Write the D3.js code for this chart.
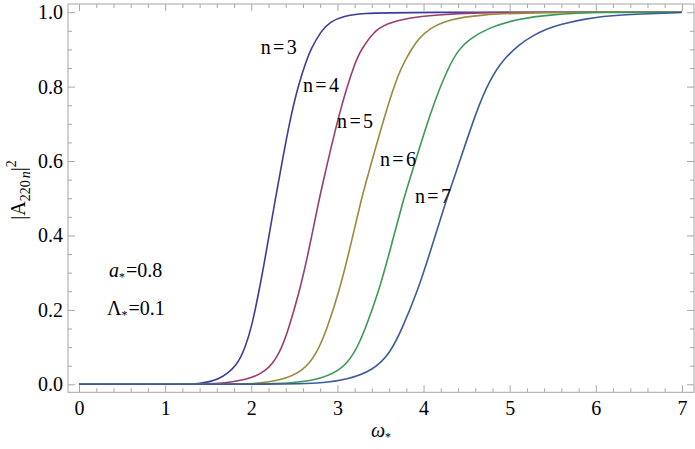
<!DOCTYPE html>
<html>
<head>
<meta charset="utf-8">
<script src="https://cdn.jsdelivr.net/npm/d3@7"></script>
<style>
  svg text, svg tspan, svg g { font-family: "Liberation Serif" !important; }
</style>
</head>
<body style="margin:0">
<svg id="chart" width="695" height="449" font-family="Liberation Serif"></svg>
<script>
// ---- data: [omega*, |A|^2] ----
const seriesNames = ["n=3", "n=4", "n=5", "n=6", "n=7"];
const seriesColors = ["#3d3d99", "#993d71", "#998b3d", "#3d9956", "#3d5a99"];

const curveN3 = [[0,0],[1.2,0],[1.40,0.002],[1.62,0.01],[1.84,0.05],[1.93,0.10],[2.00,0.15],[2.09,0.25],[2.17,0.35],[2.28,0.50],[2.36,0.60],[2.44,0.70],[2.54,0.80],[2.64,0.87],[2.69,0.90],[2.81,0.95],[2.92,0.975],[3.07,0.99],[3.30,0.997],[3.69,1.0],[7,1.0]];
const curveN4 = [[0,0],[1.5,0],[1.67,0.003],[1.95,0.012],[2.18,0.034],[2.33,0.083],[2.43,0.146],[2.56,0.25],[2.66,0.35],[2.79,0.50],[2.84,0.55],[3.03,0.74],[3.21,0.87],[3.28,0.90],[3.42,0.948],[3.57,0.969],[3.80,0.984],[4.15,0.993],[4.65,0.999],[5.2,1.0],[7,1.0]];
const curveN5 = [[0,0],[1.9,0],[2.02,0.002],[2.33,0.009],[2.60,0.034],[2.76,0.083],[2.875,0.146],[3.02,0.25],[3.13,0.35],[3.28,0.50],[3.34,0.55],[3.57,0.74],[3.71,0.836],[3.79,0.872],[3.86,0.90],[3.93,0.926],[4.07,0.957],[4.30,0.981],[4.65,0.993],[5.27,1.0],[7,1.0]];
const curveN6 = [[0,0],[2.2,0],[2.41,0.003],[2.72,0.009],[3.03,0.034],[3.20,0.083],[3.32,0.146],[3.48,0.25],[3.60,0.35],[3.77,0.50],[3.84,0.55],[4.09,0.74],[4.29,0.854],[4.41,0.90],[4.52,0.926],[4.76,0.959],[5.08,0.981],[5.47,0.994],[6.05,1.0],[7,1.0]];
const curveN7 = [[0,0],[2.5,0],[2.80,0.003],[3.11,0.012],[3.42,0.038],[3.61,0.083],[3.745,0.146],[3.93,0.25],[4.07,0.35],[4.27,0.50],[4.35,0.55],[4.62,0.74],[4.77,0.818],[4.92,0.872],[5.12,0.915],[5.27,0.937],[5.43,0.955],[5.58,0.967],[5.89,0.983],[6.24,0.993],[7.0,0.999]];
const allCurves = [curveN3, curveN4, curveN5, curveN6, curveN7];

// label anchor positions in data units [omega, A]
const labelPos = [[2.11, 0.888], [2.60, 0.786], [2.996, 0.689], [3.494, 0.587], [3.90, 0.487]];

const xMajorTicks = [0, 1, 2, 3, 4, 5, 6, 7];
const yMajorTicks = [0, 0.2, 0.4, 0.6, 0.8, 1.0];
const xMinorTicks = d3.range(0, 7.01, 0.2).map(v => +v.toFixed(2)).filter(v => Math.abs(v - Math.round(v)) > 1e-6);
const yMinorTicks = d3.range(0, 1.001, 0.05).map(v => +v.toFixed(2)).filter(v => Math.abs(v * 5 - Math.round(v * 5)) > 1e-6);

// ---- layout ----
const FAM = "Liberation Serif";
const svg = d3.select("#chart");
const frameL = 68, frameR = 694, frameT = 4, frameB = 392.3;
const x = d3.scaleLinear().domain([-0.128, 7.14]).range([frameL, frameR]);
const y = d3.scaleLinear().domain([-0.0215, 1.022]).range([frameB, frameT]);
const frameColor = "#a6a6a6";

function serif(sel, size) {
  sel.attr("font-family", FAM).style("font-family", `"${FAM}"`).style("font-size", size + "px");
  return sel;
}

// curves
const line = d3.line().x(d => x(d[0])).y(d => y(d[1])).curve(d3.curveBasis);
svg.append("g")
  .selectAll("path").data(allCurves).join("path")
  .attr("d", line)
  .attr("fill", "none")
  .attr("stroke", (d, i) => seriesColors[i])
  .attr("stroke-width", 1.6);

// frame
svg.append("rect").attr("x", frameL).attr("y", frameT)
  .attr("width", frameR - frameL).attr("height", frameB - frameT)
  .attr("fill", "none").attr("stroke", frameColor).attr("stroke-width", 1);

function styleAxis(g) {
  g.attr("font-family", FAM).attr("font-size", 20);
  g.select(".domain").remove();
  g.selectAll(".tick line").attr("stroke", frameColor);
  g.selectAll(".tick text").call(serif, 20).attr("fill", "#000");
}

// bottom
svg.append("g").attr("transform", `translate(0,${frameB})`)
  .call(d3.axisBottom(x).tickValues(xMajorTicks).tickSizeInner(-7).tickSizeOuter(0).tickPadding(9).tickFormat(d3.format("d")))
  .call(styleAxis);
svg.append("g").attr("transform", `translate(0,${frameB})`)
  .call(d3.axisBottom(x).tickValues(xMinorTicks).tickSizeInner(-4).tickSizeOuter(0).tickFormat(""))
  .call(styleAxis);
// top
svg.append("g").attr("transform", `translate(0,${frameT})`)
  .call(d3.axisTop(x).tickValues(xMajorTicks).tickSizeInner(-7).tickSizeOuter(0).tickFormat(""))
  .call(styleAxis);
svg.append("g").attr("transform", `translate(0,${frameT})`)
  .call(d3.axisTop(x).tickValues(xMinorTicks).tickSizeInner(-4).tickSizeOuter(0).tickFormat(""))
  .call(styleAxis);
// left
svg.append("g").attr("transform", `translate(${frameL},0)`)
  .call(d3.axisLeft(y).tickValues(yMajorTicks).tickSizeInner(-7).tickSizeOuter(0).tickPadding(5).tickFormat(d3.format(".1f")))
  .call(styleAxis);
svg.append("g").attr("transform", `translate(${frameL},0)`)
  .call(d3.axisLeft(y).tickValues(yMinorTicks).tickSizeInner(-4).tickSizeOuter(0).tickFormat(""))
  .call(styleAxis);
// right
svg.append("g").attr("transform", `translate(${frameR},0)`)
  .call(d3.axisRight(y).tickValues(yMajorTicks).tickSizeInner(-7).tickSizeOuter(0).tickFormat(""))
  .call(styleAxis);
svg.append("g").attr("transform", `translate(${frameR},0)`)
  .call(d3.axisRight(y).tickValues(yMinorTicks).tickSizeInner(-4).tickSizeOuter(0).tickFormat(""))
  .call(styleAxis);

// curve labels
svg.append("g").selectAll("text").data(seriesNames).join("text")
  .attr("x", (d, i) => x(labelPos[i][0]))
  .attr("y", (d, i) => y(labelPos[i][1]))
  .call(serif, 20)
  .attr("textLength", 36).attr("lengthAdjust", "spacing")
  .text(d => d);

// x axis title
const xt = svg.append("text").attr("x", (frameL + frameR) / 2).attr("y", 437)
  .attr("text-anchor", "middle").call(serif, 20);
xt.append("tspan").style("font-style", "italic").text("ω");
xt.append("tspan").style("font-size", "12px").attr("dy", 4).text("*");

// y axis title
const yt = svg.append("text").attr("transform", "translate(25,190) rotate(-90)")
  .attr("text-anchor", "middle").call(serif, 20);
yt.append("tspan").text("|A");
yt.append("tspan").style("font-size", "14px").attr("dy", 5).text("220");
yt.append("tspan").style("font-size", "14px").style("font-style", "italic").attr("dx", 2).text("n");
yt.append("tspan").attr("dy", -5).text("|");
yt.append("tspan").style("font-size", "14px").attr("dy", -9).text("2");

// parameter annotations
const a1 = svg.append("text").attr("x", 109).attr("y", 277).call(serif, 20);
a1.append("tspan").style("font-style", "italic").text("a");
a1.append("tspan").style("font-size", "12px").attr("dy", 4).text("*");
a1.append("tspan").attr("dy", -4).attr("dx", 1).text("=0.8");
const a2 = svg.append("text").attr("x", 107).attr("y", 315).call(serif, 20);
a2.append("tspan").text("Λ");
a2.append("tspan").style("font-size", "12px").attr("dy", 4).text("*");
a2.append("tspan").attr("dy", -4).attr("dx", 1).text("=0.1");
</script>
</body>
</html>
